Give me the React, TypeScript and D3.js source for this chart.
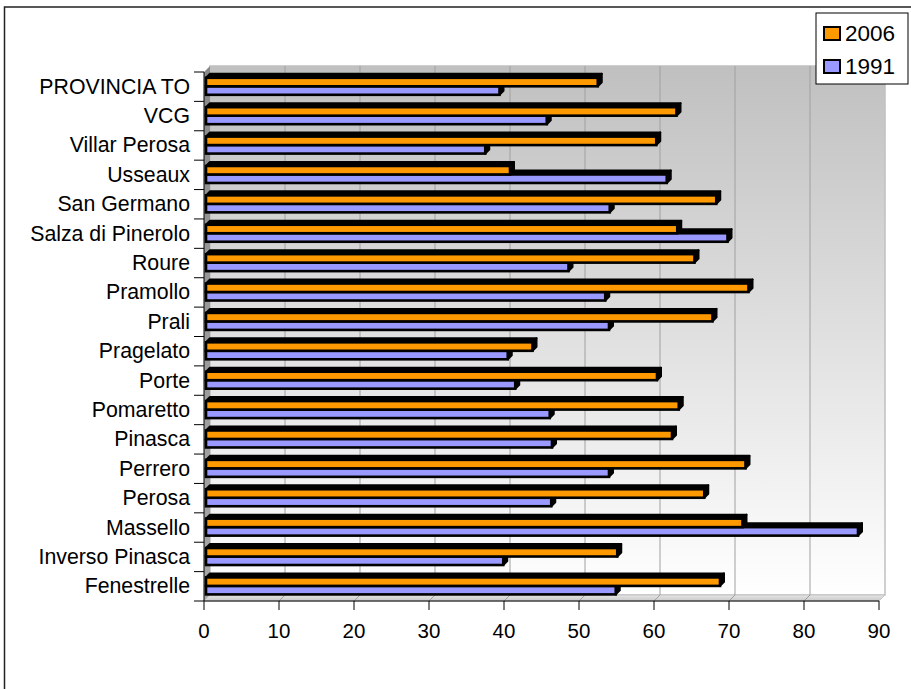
import React from "react";
import * as d3 from "d3";

const categories = [
  "PROVINCIA TO",
  "VCG",
  "Villar Perosa",
  "Usseaux",
  "San Germano",
  "Salza di Pinerolo",
  "Roure",
  "Pramollo",
  "Prali",
  "Pragelato",
  "Porte",
  "Pomaretto",
  "Pinasca",
  "Perrero",
  "Perosa",
  "Massello",
  "Inverso Pinasca",
  "Fenestrelle",
];
const values2006 = [52.5, 63.0, 60.3, 40.8, 68.3, 63.1, 65.4, 72.6, 67.8, 43.8, 60.4, 63.3, 62.4, 72.2, 66.7, 71.8, 55.1, 68.8];
const values1991 = [39.4, 45.7, 37.5, 61.7, 54.1, 69.8, 48.6, 53.5, 54.0, 40.5, 41.5, 46.1, 46.4, 54.0, 46.3, 87.2, 39.9, 54.9];
const seriesNames = ["2006", "1991"];
const seriesColors = ["#FF9900", "#9999FF"];
const xTicks = [0, 10, 20, 30, 40, 50, 60, 70, 80, 90];

const W = 911;
const H = 689;
const FONT = "'Liberation Sans', Arial, sans-serif";

export default function App() {
  const left = 204;
  const right = 879;
  const top = 72;
  const bottom = 601;
  const ddx = 6;
  const ddy = 6;
  const bdx = 4;
  const bdy = 4;

  const x = d3.scaleLinear().domain([0, 90]).range([left, right]);
  const y = d3.scaleBand<string>().domain(categories).range([top, bottom]).padding(0);
  const inner = d3.scaleBand<string>().domain(seriesNames).range([5.8, 22.8]).padding(0);
  const series = [values2006, values1991];

  const barPaths = (x0: number, x1: number, y0: number, h: number) => {
    const topFace = `M${x0},${y0}L${x0 + bdx},${y0 - bdy}L${x1 + bdx},${y0 - bdy}L${x1},${y0}Z`;
    const sideFace = `M${x1},${y0}L${x1 + bdx},${y0 - bdy}L${x1 + bdx},${y0 + h - bdy}L${x1},${y0 + h}Z`;
    return { topFace, sideFace };
  };

  const bars: React.ReactNode[] = [];
  categories.forEach((c, i) => {
    [1, 0].forEach((s) => {
      const v = series[s][i];
      const y0 = (y(c) as number) + (inner(seriesNames[s]) as number);
      const h = inner.bandwidth();
      const x0 = x(0) + 2;
      const x1 = x(v);
      const p = barPaths(x0, x1, y0, h);
      bars.push(
        <g key={`${c}-${s}`}>
          <path d={p.topFace} fill="#000" stroke="#000" strokeWidth={2} strokeLinejoin="round" />
          <path d={p.sideFace} fill="#000" stroke="#000" strokeWidth={2} strokeLinejoin="round" />
          <rect x={x0} y={y0} width={x1 - x0} height={h} fill={seriesColors[s]} stroke="#000" strokeWidth={2.6} />
        </g>
      );
    });
  });

  return (
    <svg
      width={W}
      height={H}
      style={{ position: "absolute", left: 0, top: 0, background: "#fff" }}
      fontFamily={FONT}
    >
      <defs>
        <linearGradient id="wallGrad" x1="0" y1="0" x2="0" y2="1">
          <stop offset="0" stopColor="#c0c0c0" />
          <stop offset="1" stopColor="#ffffff" />
        </linearGradient>
        <linearGradient id="sideGrad" x1="0" y1="0" x2="0" y2="1">
          <stop offset="0" stopColor="#8a8a8a" />
          <stop offset="1" stopColor="#a8a8a8" />
        </linearGradient>
        <linearGradient id="floorGrad" x1="0" y1="0" x2="0" y2="1">
          <stop offset="0" stopColor="#e6e6e6" />
          <stop offset="1" stopColor="#c8c8c8" />
        </linearGradient>
      </defs>
      <rect x={4.5} y={7} width={1000} height={1000} fill="#fff" stroke="#222" strokeWidth={1.5} />

      <rect x={left + ddx} y={top - ddy} width={right - left} height={bottom - top} fill="url(#wallGrad)" stroke="#c0c0c0" strokeWidth={1.5} />
      <path d={`M${left},${top}L${left + ddx},${top - ddy}L${left + ddx},${bottom - ddy}L${left},${bottom}Z`} fill="url(#sideGrad)" />
      <path d={`M${left},${bottom}L${left + ddx},${bottom - ddy}L${right + ddx},${bottom - ddy}L${right},${bottom}Z`} fill="url(#floorGrad)" stroke="#c4c4c4" strokeWidth={1} />

      {xTicks.slice(1, -1).map((t) => (
        <g key={`g${t}`}>
          <line x1={x(t) + ddx} x2={x(t) + ddx} y1={top - ddy} y2={bottom - ddy} stroke="#a0a0a0" strokeWidth={1} />
          <line x1={x(t)} x2={x(t) + ddx} y1={bottom} y2={bottom - ddy} stroke="#a0a0a0" strokeWidth={1} />
        </g>
      ))}

      {bars}

      <line x1={left} x2={left} y1={top} y2={bottom} stroke="#000" strokeWidth={1} />
      {categories.map((c) => (
        <line key={`yt${c}`} x1={left - 10} x2={left} y1={y(c) as number} y2={y(c) as number} stroke="#000" strokeWidth={1} />
      ))}
      <line x1={left - 10} x2={left} y1={bottom} y2={bottom} stroke="#000" strokeWidth={1} />
      <line x1={left} x2={right} y1={bottom} y2={bottom} stroke="#000" strokeWidth={1} />
      {xTicks.map((t) => (
        <g key={`xt${t}`}>
          <line x1={x(t)} x2={x(t)} y1={bottom} y2={bottom + 9} stroke="#000" strokeWidth={1} />
          <text x={x(t)} y={638} textAnchor="middle" fontSize={20.5} fill="#000">
            {t}
          </text>
        </g>
      ))}
      {categories.map((c) => (
        <text
          key={`yl${c}`}
          x={190}
          y={(y(c) as number) + y.bandwidth() / 2 + 7}
          textAnchor="end"
          fontSize={21.3}
          fill="#000"
        >
          {c}
        </text>
      ))}

      <rect x={816} y={13} width={92} height={71} fill="#fff" stroke="#000" strokeWidth={1} />
      {seriesNames.map((s, i) => (
        <g key={`lg${s}`}>
          <rect x={824} y={27 + i * 33} width={16} height={13} fill={seriesColors[i]} stroke="#000" strokeWidth={2} />
          <text x={845} y={41 + i * 33} fontSize={22.5} fill="#000">
            {s}
          </text>
        </g>
      ))}
    </svg>
  );
}
